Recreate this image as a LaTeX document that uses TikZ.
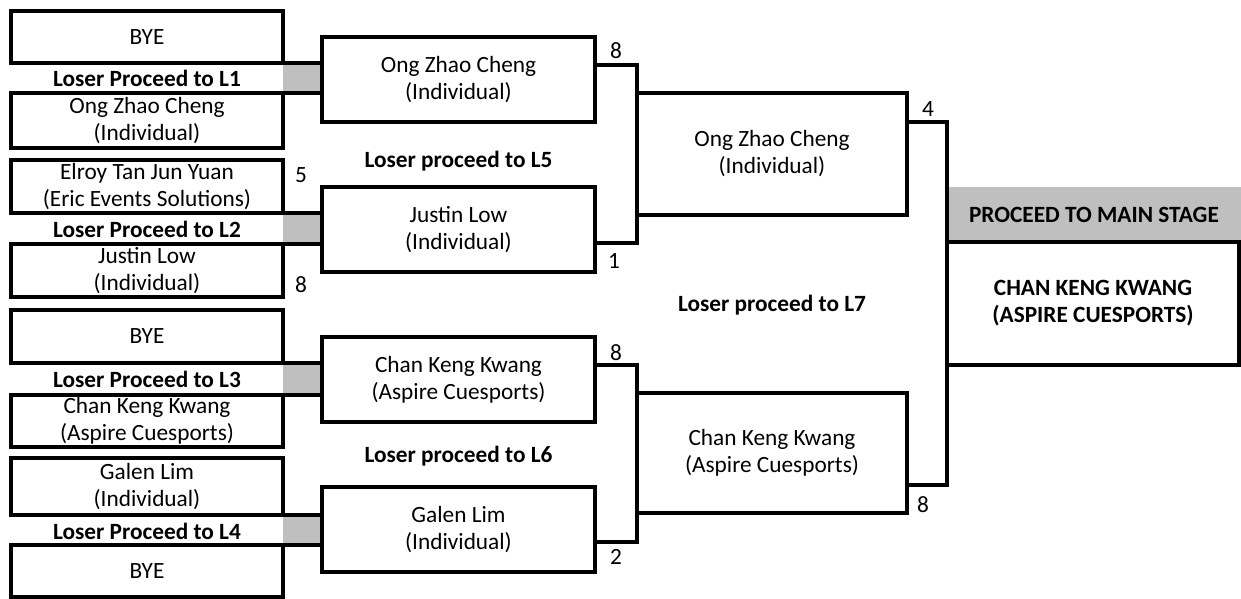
\documentclass[tikz,border=0pt]{standalone}
\usepackage{fontspec}
\setmainfont{Carlito}
\definecolor{cellgray}{RGB}{191,191,191}
\begin{document}
\begin{tikzpicture}[x=0.5pt,y=-0.5pt,
  txt/.style={font=\fontsize{11.65}{13.5}\selectfont, align=center, inner sep=0pt, outer sep=0pt},
  boldtxt/.style={txt, font=\fontsize{11.65}{13.5}\selectfont\bfseries},
  box/.style 2 args={txt, draw=black, line width=1.6pt, minimum width=#1, minimum height=#2},
  gcell/.style 2 args={txt, fill=cellgray, minimum width=#1, minimum height=#2},
  conn/.style={draw=black, line width=1.6pt, line cap=rect}
]
\fill[white] (0,0) rectangle (1241,599);
\useasboundingbox (0,0) rectangle (1241,599);

% Round 1 (left column)
\node[box={136pt}{26pt}] (a1) at (147,37) {BYE};
\node[boldtxt, anchor=base] (l1) at (147,87) {Loser Proceed to L1};
\node[box={136pt}{27.5pt}] (b1) at (147,120.5) {Ong Zhao Cheng\\(Individual)};

\node[box={136pt}{26.5pt}] (a2) at (147,186.5) {Elroy Tan Jun Yuan\\(Eric Events Solutions)};
\node[boldtxt, anchor=base] (l2) at (147,237) {Loser Proceed to L2};
\node[box={136pt}{26.5pt}] (b2) at (147,270.5) {Justin Low\\(Individual)};

\node[box={136pt}{26.5pt}] (a3) at (147,336.5) {BYE};
\node[boldtxt, anchor=base] (l3) at (147,387) {Loser Proceed to L3};
\node[box={136pt}{26pt}] (b3) at (147,421) {Chan Keng Kwang\\(Aspire Cuesports)};

\node[box={136pt}{28.5pt}] (a4) at (147,486.5) {Galen Lim\\(Individual)};
\node[boldtxt, anchor=base] (l4) at (147,539) {Loser Proceed to L4};
\node[box={136pt}{26pt}] (b4) at (147,571) {BYE};

% grey links
\node[gcell={19.5pt}{15pt}] (g1) at (302.5,78) {};
\node[gcell={19.5pt}{15.5pt}] (g2) at (302.5,228.5) {};
\node[gcell={19.5pt}{16pt}] (g3) at (302.5,379) {};
\node[gcell={19.5pt}{15pt}] (g4) at (302.5,530) {};
\foreach \g in {g1,g2,g3,g4}{
  \draw[conn] (\g.north west) -- (\g.north east);
  \draw[conn] (\g.south west) -- (\g.south east);
}

% Round 2
\node[box={136.5pt}{42.5pt}] (r2a) at (458.5,79.5) {Ong Zhao Cheng\\(Individual)};
\node[box={136.5pt}{42.5pt}] (r2b) at (458.5,229.5) {Justin Low\\(Individual)};
\node[box={136.5pt}{42.5pt}] (r2c) at (458.5,379.5) {Chan Keng Kwang\\(Aspire Cuesports)};
\node[box={136.5pt}{42.5pt}] (r2d) at (458.5,529.5) {Galen Lim\\(Individual)};
\node[boldtxt, anchor=base] (l5) at (458.5,167) {Loser proceed to L5};
\node[boldtxt, anchor=base] (l6) at (458.5,462) {Loser proceed to L6};

% Round 3
\node[box={135pt}{61pt}] (r3a) at (772,154) {Ong Zhao Cheng\\(Individual)};
\node[box={135pt}{60pt}] (r3b) at (772,453) {Chan Keng Kwang\\(Aspire Cuesports)};
\node[boldtxt, anchor=base] (l7) at (772,311) {Loser proceed to L7};

% Final
\node[gcell={147pt}{27.5pt}, font=\fontsize{11.65}{13.5}\selectfont\bfseries] (stage) at (1094,214.5) {PROCEED TO MAIN STAGE};
\node[box={146pt}{61.5pt}, font=\fontsize{11.65}{13.5}\selectfont\bfseries] (champ) at (1093,303.5) {CHAN KENG KWANG\\(ASPIRE CUESPORTS)};

% bracket connectors
\draw[conn] ([yshift=7.25pt]r2a.east) -| (r3a.north west) -- (r3a.south west) |- ([yshift=-6.75pt]r2b.east);
\draw[conn] ([yshift=7.25pt]r2c.east) -| (r3b.north west) -- (r3b.south west) |- ([yshift=-6.25pt]r2d.east);
\draw[conn] ([yshift=16pt]r3a.east) -| (stage.north west) -- (champ.south west) |- ([yshift=-16pt]r3b.east);

% scores
\node[txt] (s1) at (301,175) {5};
\node[txt] (s2) at (301,285) {8};
\node[txt] (s3) at (616,51) {8};
\node[txt] (s4) at (614,261) {1};
\node[txt] (s5) at (616,353) {8};
\node[txt] (s6) at (616,557) {2};
\node[txt] (s7) at (928,109) {4};
\node[txt] (s8) at (923,505) {8};
\end{tikzpicture}
\end{document}
